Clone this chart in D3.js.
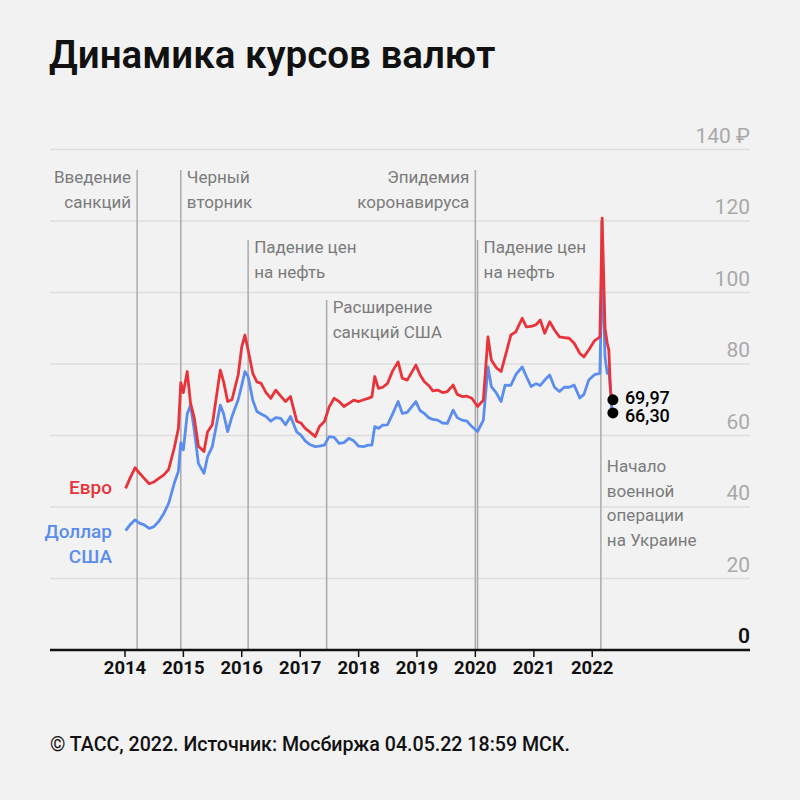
<!DOCTYPE html>
<html lang="ru">
<head>
  <meta charset="UTF-8">
  <title>Динамика курсов валют</title>
  <script src="https://cdn.jsdelivr.net/npm/d3@7"></script>
  <style>
    html, body { margin: 0; padding: 0; background: #f2f2f2; }
    svg { display: block; font-family: Roboto, "Noto Sans", sans-serif; }
  </style>
</head>
<body>
<div id="chart"></div>
<script>
  // данные: курс Мосбиржи, руб.
  const dates = [
    "2014-01-05","2014-02-01","2014-03-05","2014-04-01","2014-05-01","2014-06-01","2014-07-01","2014-08-01",
    "2014-09-01","2014-10-01","2014-11-05","2014-12-01","2014-12-16","2015-01-01","2015-01-25","2015-02-15",
    "2015-03-10","2015-04-05","2015-05-10","2015-06-01","2015-07-01","2015-08-20","2015-09-10","2015-10-05",
    "2015-11-01","2015-12-10","2016-01-01","2016-01-21","2016-02-10","2016-03-10","2016-04-05","2016-05-01",
    "2016-06-01","2016-07-01","2016-08-01","2016-09-01","2016-10-01","2016-11-01","2016-12-10","2017-01-05",
    "2017-02-01","2017-03-01","2017-04-05","2017-05-01","2017-06-01","2017-07-01","2017-08-01","2017-09-01",
    "2017-10-01","2017-11-01","2017-12-01","2018-01-01","2018-02-01","2018-03-01","2018-03-25","2018-04-12",
    "2018-05-05","2018-06-01","2018-07-01","2018-08-01","2018-09-05","2018-10-01","2018-11-01","2018-12-25",
    "2019-01-20","2019-02-15","2019-03-15","2019-04-10","2019-05-10","2019-06-10","2019-07-10","2019-08-15",
    "2019-09-10","2019-10-10","2019-11-10","2019-12-10","2020-01-15","2020-02-20","2020-03-20","2020-04-10",
    "2020-05-10","2020-06-10","2020-07-05","2020-08-10","2020-09-10","2020-10-20","2020-11-15","2020-12-15",
    "2021-01-15","2021-02-10","2021-03-10","2021-04-10","2021-05-10","2021-06-10","2021-07-10","2021-08-10",
    "2021-09-10","2021-10-15","2021-11-10","2021-12-10","2022-01-15","2022-02-18","2022-03-04","2022-03-22",
    "2022-04-05","2022-04-15","2022-04-25","2022-05-04"
  ];
  const euro = [
    45.2, 48.0, 51.0, 49.5, 48.0, 46.5, 47.0, 48.0,
    49.0, 50.5, 56.5, 62.0, 74.8, 72.0, 77.9, 69.0,
    65.0, 57.0, 55.5, 61.0, 63.0, 78.3, 75.0, 69.5,
    70.0, 77.0, 84.8, 88.1, 83.9, 77.4, 75.0, 74.6,
    72.0, 70.4, 72.7, 71.0, 69.5, 70.9, 64.0, 63.5,
    62.0, 61.0, 59.7, 62.5, 63.9, 68.0, 70.4, 69.5,
    68.1, 69.0, 69.9, 69.5, 70.0, 70.4, 70.8, 76.5,
    73.2, 73.5, 74.6, 78.0, 80.6, 76.0, 75.5, 79.7,
    77.0, 75.1, 74.0, 72.5, 72.7, 72.0, 72.3, 74.1,
    71.5, 70.9, 71.0, 70.4, 68.1, 69.9, 87.6, 81.1,
    79.0, 77.9, 82.0, 88.1, 89.0, 92.8, 90.4, 90.5,
    91.0, 92.3, 88.6, 91.8, 89.5, 87.6, 87.4, 87.2,
    85.8, 83.0, 82.0, 83.9, 86.5, 87.6, 120.8, 90.0,
    85.8, 83.9, 72.7, 69.97
  ];
  const dollar = [
    33.4, 35.0, 36.4, 35.5, 35.0, 34.0, 34.5, 36.0,
    38.2, 41.0, 46.6, 50.0, 58.0, 56.0, 66.0, 68.5,
    61.5, 52.2, 49.4, 54.0, 56.9, 68.5, 66.0, 61.1,
    65.3, 70.0, 74.0, 77.9, 76.5, 69.9, 66.7, 66.0,
    65.3, 64.0, 65.0, 64.8, 63.0, 65.3, 61.0, 60.1,
    58.5, 57.5, 56.9, 57.0, 57.3, 59.7, 59.5, 57.8,
    58.0, 59.2, 58.5, 57.0, 56.9, 57.3, 57.3, 62.5,
    62.0, 62.9, 63.0, 66.0, 69.5, 66.2, 66.5, 69.5,
    67.0, 66.2, 65.0, 64.5, 64.3, 63.5, 63.4, 67.1,
    65.0, 64.3, 64.0, 62.5, 61.1, 64.3, 79.2, 73.7,
    72.0, 69.5, 74.1, 74.0, 77.0, 79.2, 76.5, 73.7,
    74.5, 74.0, 75.5, 76.9, 73.5, 72.3, 73.5, 73.5,
    74.1, 70.5, 71.5, 75.5, 77.0, 77.4, 108.0, 82.0,
    77.4, 78.5, 72.7, 66.30
  ];
  const yTicks = [0, 20, 40, 60, 80, 100, 120, 140];
  const xYears = [2014, 2015, 2016, 2017, 2018, 2019, 2020, 2021, 2022];

  const events = [
    {date: "2014-03-18", top: 170, lines: ["Введение", "санкций"], side: "left"},
    {date: "2014-12-16", top: 170, lines: ["Черный", "вторник"], side: "right"},
    {date: "2016-02-10", top: 240, lines: ["Падение цен", "на нефть"], side: "right"},
    {date: "2017-06-15", top: 300, lines: ["Расширение", "санкций США"], side: "right"},
    {date: "2020-01-01", top: 170, lines: ["Эпидемия", "коронавируса"], side: "left"},
    {date: "2020-01-15", top: 240, lines: ["Падение цен", "на нефть"], side: "right"},
    {date: "2022-02-24", top: 221, textTop: 472, lines: ["Начало", "военной", "операции", "на Украине"], side: "right"}
  ];

  const width = 800, height = 800;
  const parse = d3.timeParse("%Y-%m-%d");

  const x = d3.scaleTime()
    .domain([new Date(2014, 0, 1), new Date(2023, 0, 1)])
    .range([125, 125 + 9 * 58.4]);
  const y = d3.scaleLinear()
    .domain([0, 140])
    .range([650, 149.5]);

  const svg = d3.select("#chart")
    .append("svg")
      .attr("width", width)
      .attr("height", height);

  // заголовок
  svg.append("text")
    .attr("x", 49).attr("y", 68)
    .attr("font-size", 38.5).attr("font-weight", 600)
    .attr("fill", "#111")
    .text("Динамика курсов валют");

  // сетка
  svg.append("g")
    .selectAll("line")
    .data(yTicks.filter(d => d > 0))
    .join("line")
      .attr("x1", 50).attr("x2", 750)
      .attr("y1", d => y(d)).attr("y2", d => y(d))
      .attr("stroke", "#dddddd")
      .attr("stroke-width", 1.5);

  svg.append("g")
    .selectAll("text")
    .data(yTicks)
    .join("text")
      .attr("x", 750)
      .attr("y", d => y(d) - 7)
      .attr("text-anchor", "end")
      .attr("font-size", 21)
      .attr("font-weight", d => d === 0 ? 600 : 400)
      .attr("fill", d => d === 0 ? "#111" : "#a9a9a9")
      .text(d => d === 140 ? "140 ₽" : d);

  // события
  const ev = svg.append("g");
  events.forEach(e => {
    const ex = x(parse(e.date));
    ev.append("line")
      .attr("x1", ex).attr("x2", ex)
      .attr("y1", e.top).attr("y2", 650)
      .attr("stroke", "#aaaaaa")
      .attr("stroke-width", 1.5);
    const t0 = e.textTop || (e.top + 13);
    ev.append("text")
      .attr("text-anchor", e.side === "left" ? "end" : "start")
      .attr("font-size", 17)
      .attr("fill", "#7b7b7b")
      .selectAll("tspan")
      .data(e.lines)
      .join("tspan")
        .attr("x", e.side === "left" ? ex - 6 : ex + 6)
        .attr("y", (d, i) => t0 + i * 24.5)
        .text(d => d);
  });

  // линии курсов
  const line = d3.line()
    .x((d, i) => x(parse(dates[i])))
    .y(d => y(d));

  svg.append("path")
    .datum(dollar)
    .attr("d", line)
    .attr("fill", "none")
    .attr("stroke", "#5b8def")
    .attr("stroke-width", 2.8)
    .attr("stroke-linejoin", "round");

  svg.append("path")
    .datum(euro)
    .attr("d", line)
    .attr("fill", "none")
    .attr("stroke", "#e8333b")
    .attr("stroke-width", 2.8)
    .attr("stroke-linejoin", "round");

  // ось X
  svg.append("line")
    .attr("x1", 50).attr("x2", 750)
    .attr("y1", 650).attr("y2", 650)
    .attr("stroke", "#111").attr("stroke-width", 2.5);

  const xa = svg.append("g");
  xa.selectAll("line")
    .data(xYears)
    .join("line")
      .attr("x1", d => x(new Date(d, 0, 1))).attr("x2", d => x(new Date(d, 0, 1)))
      .attr("y1", 650).attr("y2", 657)
      .attr("stroke", "#111").attr("stroke-width", 1.5);
  xa.selectAll("text")
    .data(xYears)
    .join("text")
      .attr("x", d => x(new Date(d, 0, 1)))
      .attr("y", 674)
      .attr("text-anchor", "middle")
      .attr("font-size", 18.5)
      .attr("font-weight", 700)
      .attr("fill", "#111")
      .text(d => d);

  // подписи рядов
  svg.append("text")
    .attr("x", 112).attr("y", 494)
    .attr("text-anchor", "end")
    .attr("font-size", 19).attr("font-weight", 500)
    .attr("fill", "#e8333b")
    .text("Евро");
  svg.append("text")
    .attr("text-anchor", "end")
    .attr("font-size", 19).attr("font-weight", 500)
    .attr("fill", "#5b8def")
    .selectAll("tspan")
    .data(["Доллар", "США"])
    .join("tspan")
      .attr("x", 112)
      .attr("y", (d, i) => 538 + i * 24.5)
      .text(d => d);

  // последние значения
  const lastDate = parse(dates[dates.length - 1]);
  const last = [
    {v: euro[euro.length - 1], dy: 4},
    {v: dollar[dollar.length - 1], dy: 9}
  ];
  const lg = svg.append("g");
  lg.selectAll("circle")
    .data(last)
    .join("circle")
      .attr("cx", x(lastDate) + 1)
      .attr("cy", d => y(d.v))
      .attr("r", 5.5)
      .attr("fill", "#000");
  lg.selectAll("text")
    .data(last)
    .join("text")
      .attr("x", x(lastDate) + 13)
      .attr("y", d => y(d.v) + d.dy)
      .attr("font-size", 18)
      .attr("font-weight", 500)
      .attr("fill", "#000")
      .text(d => d3.format(".2f")(d.v).replace(".", ","));

  // источник
  svg.append("text")
    .attr("x", 50).attr("y", 751)
    .attr("font-size", 19.6).attr("font-weight", 500)
    .attr("fill", "#111")
    .text("© ТАСС, 2022. Источник: Мосбиржа 04.05.22 18:59 МСК.");
</script>
</body>
</html>
